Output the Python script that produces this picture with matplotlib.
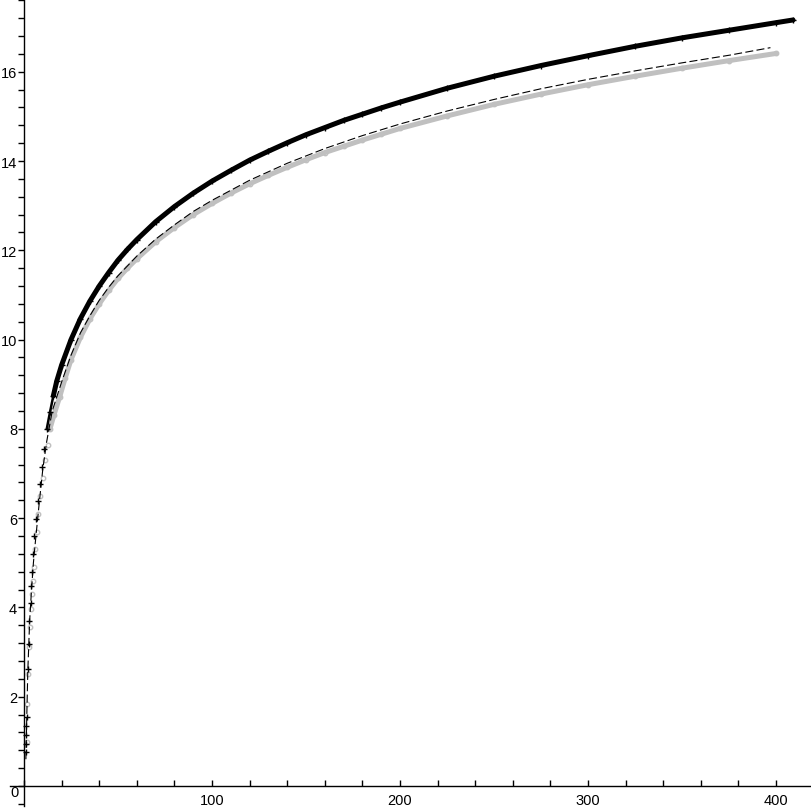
import matplotlib
matplotlib.use("Agg")
import matplotlib.pyplot as plt
from matplotlib.ticker import MultipleLocator

plt.rcParams['font.family'] = ['Liberation Sans', 'DejaVu Sans']

# crosses (black)
black_x = [1.2, 1.2, 1.25, 1.3, 1.35, 2.3, 2.7, 2.9, 3.6, 3.9, 4.2, 4.9, 5.3, 6.2, 7.3,
           8.5, 9.4, 10.6, 12.1, 13.8, 15.6, 17.4, 20, 25, 30, 35, 40, 45, 50, 55,
           60, 70, 80, 90, 100, 110, 120, 130, 140, 150, 160, 170, 180, 190, 200, 225,
           250, 275, 300, 325, 350, 375, 400, 409]
black_y = [0.76, 0.95, 1.15, 1.35, 1.55, 2.62, 3.18, 3.70, 4.11, 4.47, 4.79, 5.2, 5.6, 5.98, 6.39,
           6.76, 7.14, 7.55, 8.0, 8.37, 8.74, 9.07, 9.43, 10.0, 10.47, 10.86, 11.2, 11.5, 11.78, 12.02,
           12.24, 12.64, 12.98, 13.28, 13.55, 13.79, 14.02, 14.22, 14.41, 14.59, 14.75, 14.91, 15.05, 15.19, 15.32, 15.63,
           15.9, 16.14, 16.36, 16.57, 16.76, 16.93, 17.1, 17.16]

# circles (grey)
grey_x = [1.4, 1.7, 2.0, 2.5, 3.0, 3.6, 4.3, 4.8, 5.3, 6.0, 6.8, 7.7, 8.7, 9.9, 11.2,
          12.5, 13.8, 16, 19, 22, 25, 30, 35, 40, 45, 50, 55, 60, 70, 80,
          90, 100, 110, 120, 130, 140, 150, 160, 170, 180, 190, 200, 225, 250, 275,
          300, 325, 350, 375, 400]
grey_y = [0.99, 1.84, 2.51, 3.11, 3.56, 3.96, 4.30, 4.60, 4.9, 5.3, 5.7, 6.1, 6.5, 6.9, 7.3,
          7.65, 8.0, 8.32, 8.72, 9.15, 9.55, 10.05, 10.46, 10.8, 11.1, 11.37, 11.6, 11.81, 12.19, 12.51,
          12.8, 13.05, 13.28, 13.49, 13.68, 13.86, 14.03, 14.19, 14.33, 14.47, 14.6, 14.73, 15.01, 15.27, 15.5,
          15.71, 15.9, 16.08, 16.25, 16.41]

# dashed curve
dash_x = [1, 1.5, 2, 3, 4, 5, 6, 8, 10, 12, 15, 20, 25, 30, 35, 40, 45, 50, 60, 70,
          80, 90, 100, 120, 140, 160, 180, 200, 225, 250, 275, 300, 325, 350, 375, 397]
dash_y = [0.6, 1.6, 2.55, 3.7, 4.4, 5.0, 5.45, 6.3, 7.1, 7.7, 8.4, 9.05, 9.65, 10.15, 10.53, 10.88, 11.17, 11.43, 11.87, 12.25,
          12.57, 12.87, 13.12, 13.57, 13.95, 14.28, 14.57, 14.83, 15.12, 15.38, 15.62, 15.83, 16.02, 16.2, 16.37, 16.54]

fig = plt.figure(figsize=(8.12, 8.12), dpi=100)
ax = fig.add_axes([0, 0, 1, 1])
ax.set_xlim(-12.77, 419.1)
ax.set_ylim(-0.56, 17.63)

grey = '#c0c0c0'
# grey circles, merge into a band further up
ax.plot(grey_x[16:], grey_y[16:], color=grey, lw=3.6, solid_capstyle='round', zorder=2)
ax.plot(grey_x, grey_y, 'o', ms=3.2, mfc='none', mec=grey, mew=1, zorder=2)

ax.plot(dash_x, dash_y, color='black', lw=0.8, dashes=(7.2, 3.0), zorder=3)

ax.plot(black_x[18:21], black_y[18:21], color='black', lw=1.8, zorder=4)
ax.plot(black_x[20:], black_y[20:], color='black', lw=3.6, solid_capstyle='round', zorder=4)
ax.plot(black_x, black_y, '+', ms=4.5, color='black', mew=1, zorder=4)

# maple-like axes through the origin
for s in ['top', 'right']:
    ax.spines[s].set_visible(False)
ax.spines['left'].set_position(('data', 0))
ax.spines['bottom'].set_position(('data', 0))
ax.spines['left'].set_bounds(-0.45, 17.63)
ax.spines['bottom'].set_bounds(-7.5, 419.1)
ax.spines['left'].set_linewidth(1)
ax.spines['bottom'].set_linewidth(1)

ax.xaxis.set_minor_locator(MultipleLocator(20))
ax.yaxis.set_minor_locator(MultipleLocator(0.4))
ax.set_xticks([100, 200, 300, 400])
ax.set_yticks([2, 4, 6, 8, 10, 12, 14, 16])
ax.tick_params(axis='x', which='both', direction='in', length=4, width=1, pad=5, labelsize=10.5)
ax.tick_params(axis='y', which='both', direction='out', length=4, width=1, pad=1, labelsize=10.5)

ax.text(-5.0, -0.13, '0', ha='center', va='center', fontsize=10.5)

fig.savefig('out.png', dpi=100)
